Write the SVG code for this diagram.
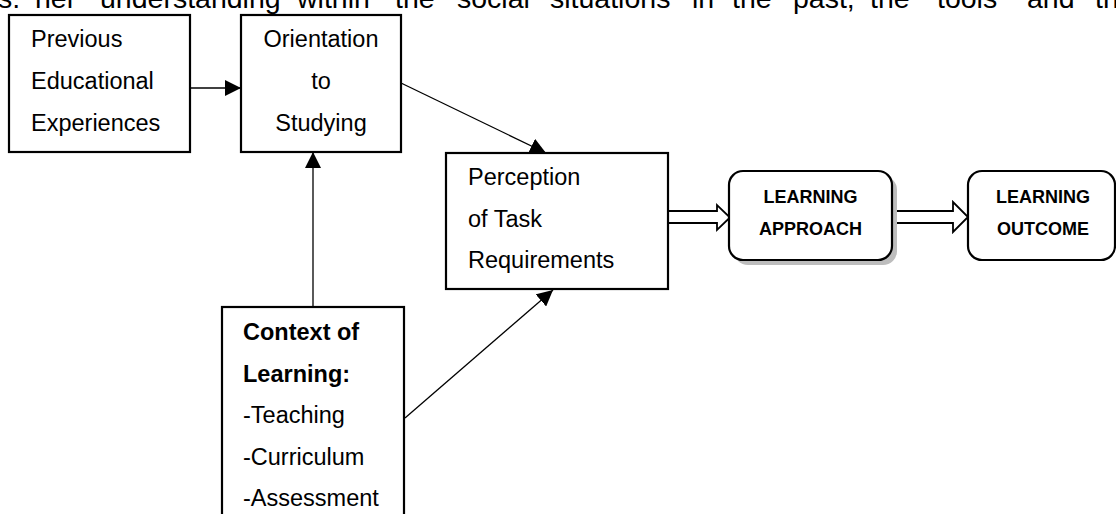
<svg xmlns="http://www.w3.org/2000/svg" width="1116" height="514" viewBox="0 0 1116 514">
<style>
.t{font-family:"Liberation Sans",Arial,sans-serif;font-size:23.5px;fill:#000}
.b{font-weight:bold}
.c{text-anchor:middle}
.cap{font-family:"Liberation Sans",Arial,sans-serif;font-size:18px;font-weight:bold;text-anchor:middle;fill:#000}
.top{font-family:"Liberation Sans",Arial,sans-serif;font-size:28.5px;fill:#000}
.box{fill:#fff;stroke:#000;stroke-width:2.2}
.ln{stroke:#000;stroke-width:1.3;fill:none}
.hol{fill:#fff;stroke:#000;stroke-width:1.8;stroke-linejoin:miter}
</style>
<defs>
<marker id="ah" markerUnits="userSpaceOnUse" markerWidth="16" markerHeight="16" viewBox="0 0 16 16" refX="16" refY="8" orient="auto">
<path d="M0,0 L16,8 L0,16 Z" fill="#000"/>
</marker>
</defs>
<rect width="1116" height="514" fill="#fff"/>
<g id="paragraph">
<text class="top" x="-2" y="8">s.</text>
<text class="top" x="35" y="8">her</text>
<text class="top" x="100" y="8">understanding</text>
<text class="top" x="297" y="8">within</text>
<text class="top" x="395" y="8">the</text>
<text class="top" x="457" y="8">social</text>
<text class="top" x="550" y="8">situations</text>
<text class="top" x="692" y="8">in</text>
<text class="top" x="732" y="8">the</text>
<text class="top" x="793" y="8">past,</text>
<text class="top" x="870" y="8">the</text>
<text class="top" x="937" y="8">tools</text>
<text class="top" x="1027" y="8">and</text>
<text class="top" x="1095" y="8">the</text>
</g>
<g id="connectors">
<line class="ln" x1="190" y1="88" x2="241" y2="88" marker-end="url(#ah)"/>
<line class="ln" x1="313" y1="307" x2="313" y2="152" marker-end="url(#ah)"/>
<line class="ln" x1="401" y1="83" x2="546" y2="153" marker-end="url(#ah)"/>
<line class="ln" x1="405" y1="418" x2="553" y2="290" marker-end="url(#ah)"/>
<polygon class="hol" points="668,211 717,211 717,205 730,217.5 717,230 717,223 668,223"/>
<polygon class="hol" points="892,211 953,211 953,202 968,217 953,232 953,223 892,223"/>
</g>
<g id="previous">
<rect class="box" x="9" y="15" width="181" height="137"/>
<text class="t" x="31" y="47">Previous</text>
<text class="t" x="31" y="89">Educational</text>
<text class="t" x="31" y="131">Experiences</text>
</g>
<g id="orientation">
<rect class="box" x="241" y="15" width="160" height="137"/>
<text class="t c" x="321" y="47">Orientation</text>
<text class="t c" x="321" y="89">to</text>
<text class="t c" x="321" y="131">Studying</text>
</g>
<g id="perception">
<rect class="box" x="446" y="153" width="222" height="136"/>
<text class="t" x="468" y="185">Perception</text>
<text class="t" x="468" y="227">of Task</text>
<text class="t" x="468" y="268">Requirements</text>
</g>
<g id="approach">
<rect x="734" y="176" width="163" height="89" rx="14" fill="#bdbdbd"/>
<rect class="box" x="729" y="171" width="163" height="89" rx="14"/>
<text class="cap" x="810.5" y="203">LEARNING</text>
<text class="cap" x="810.5" y="235">APPROACH</text>
</g>
<g id="outcome">
<rect class="box" x="968" y="171" width="147" height="89" rx="14"/>
<text class="cap" x="1043" y="203">LEARNING</text>
<text class="cap" x="1043" y="235">OUTCOME</text>
</g>
<g id="context">
<rect class="box" x="222" y="307" width="182" height="230"/>
<text class="t b" x="243" y="340">Context of</text>
<text class="t b" x="243" y="382">Learning:</text>
<text class="t" x="243" y="423">-Teaching</text>
<text class="t" x="243" y="465">-Curriculum</text>
<text class="t" x="243" y="506">-Assessment</text>
</g>
</svg>
